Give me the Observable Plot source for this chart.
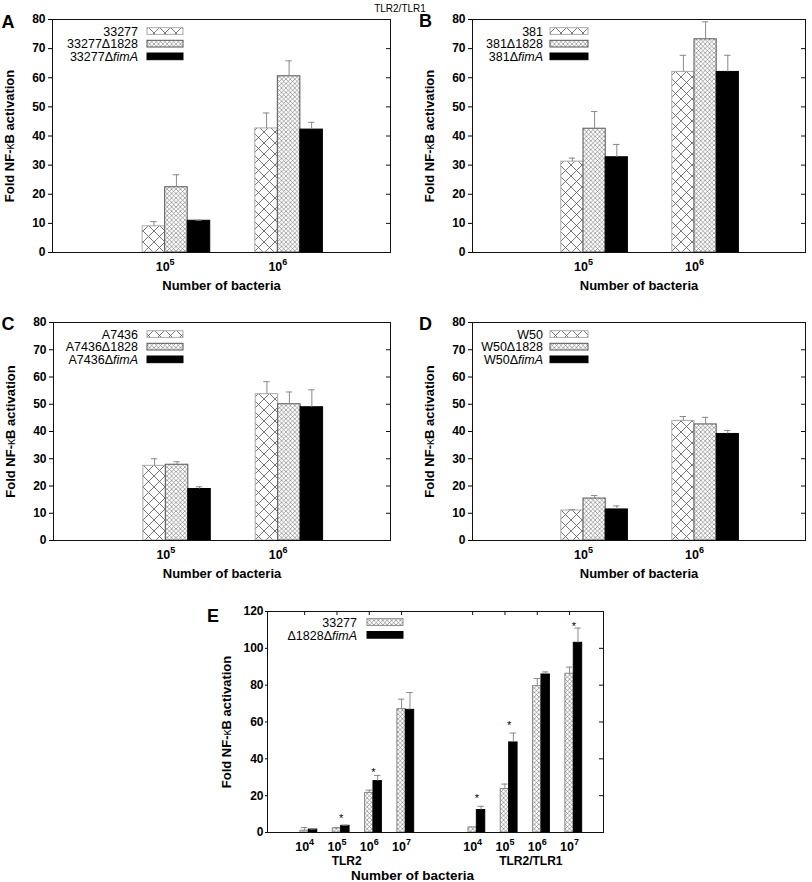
<!DOCTYPE html>
<html><head><meta charset="utf-8">
<script src="https://cdn.jsdelivr.net/npm/d3@7"></script>
<script src="https://cdn.jsdelivr.net/npm/@observablehq/plot@0.6"></script>
<style>
html,body{margin:0;padding:0;background:#fff;}
#root{position:relative;width:812px;height:882px;overflow:hidden;}
#root svg{position:absolute;}
</style></head><body><div id="root"></div>
<script>
// ---------------- DATA ----------------
const doses = ["10^5", "10^6"];

const strainsA = ["33277", "33277Δ1828", "33277ΔfimA"];
const meansA = [[9.0, 42.6], [22.4, 60.5], [10.9, 42.2]];
const sdA    = [[1.6, 5.3], [4.3, 5.3], [0.2, 2.5]];

const strainsB = ["381", "381Δ1828", "381ΔfimA"];
const meansB = [[31.2, 62.0], [42.5, 73.2], [32.7, 62.0]];
const sdB    = [[1.2, 5.7], [5.9, 6.0], [4.4, 5.7]];

const strainsC = ["A7436", "A7436Δ1828", "A7436ΔfimA"];
const meansC = [[27.4, 53.7], [27.8, 50.0], [18.9, 48.9]];
const sdC    = [[2.6, 4.6], [1.1, 4.5], [0.8, 6.4]];

const strainsD = ["W50", "W50Δ1828", "W50ΔfimA"];
const meansD = [[11.0, 43.9], [15.4, 42.6], [11.4, 39.1]];
const sdD    = [[0.3, 1.6], [1.1, 2.6], [1.3, 1.3]];

const eDoses = ["10^4", "10^5", "10^6", "10^7"];
const eReceptors = ["TLR2", "TLR2/TLR1"];
const eStrains = ["33277", "Δ1828ΔfimA"];
const eTLR2_wt     = [1.0, 2.2, 21.5, 67.0];
const eTLR2_wt_sd  = [1.7, 0.5, 1.5, 5.4];
const eTLR2_ko     = [1.6, 3.6, 27.9, 66.6];
const eTLR2_ko_sd  = [0.3, 0.4, 3.1, 9.4];
const eTLR21_wt    = [2.8, 23.6, 79.5, 86.2];
const eTLR21_wt_sd = [0.0, 2.7, 4.1, 3.6];
const eTLR21_ko    = [12.2, 48.9, 85.8, 103.0];
const eTLR21_ko_sd = [2.0, 5.1, 1.4, 8.0];
const eStarTLR2  = [null, 9.4, 34.4, null];
const eStarTLR21 = [19.9, 59.6, null, 113.5];

const yTitle = "Fold NF-κB activation";
const xTitle = "Number of bacteria";
const figTitle = "TLR2/TLR1";

// ---------------- LAYOUT ----------------
const FONT = '"Liberation Sans", Arial, Helvetica, sans-serif';
const root = document.getElementById("root");
const NS = "http://www.w3.org/2000/svg";

const stylesABCD = [
  {fill: "url(#hatchWide)", stroke: "#aaa"},
  {fill: "url(#hatchFine)", stroke: "#555"},
  {fill: "#000", stroke: "#000"}
];
const stylesE = [
  {fill: "url(#hatchFine)", stroke: "#888"},
  {fill: "#000", stroke: "#000"}
];

function postProcess(svg) {
  svg.querySelectorAll("text").forEach(t => {
    const s = t.textContent;
    const m = s.match(/^10\^(\d)$/);
    if (m) {
      t.textContent = "10";
      const ts = document.createElementNS(NS, "tspan");
      ts.setAttribute("dy", "-6");
      ts.setAttribute("font-size", "9");
      ts.textContent = m[1];
      t.appendChild(ts);
    } else if (s.includes("κ")) {
      const [a, b] = s.split("κ");
      t.textContent = "";
      const t1 = document.createElementNS(NS, "tspan"); t1.textContent = a;
      const t2 = document.createElementNS(NS, "tspan"); t2.textContent = "κ";
      t2.setAttribute("font-weight", "normal"); t2.setAttribute("font-size", "12");
      const t3 = document.createElementNS(NS, "tspan"); t3.textContent = b;
      t.append(t1, t2, t3);
    }
  });
}

function makePanel(cfg) {
  const {left, top, width, height, mL, mR, mT, mB, xDomain, tickPos, tickLabels,
         yMax, yStep, bars, styles, stars = [], groupText = [], topTicks = false,
         xTickPad, yTickSize, yTickPad, xTitleDx = 0, xTitleDy, xTitleSize = 13, yTitleDx} = cfg;
  const innerW = width - mL - mR, innerH = height - mT - mB;
  const yTicks = d3.range(0, yMax + 1e-9, yStep);
  const labelMap = new Map(tickPos.map((p, i) => [p, tickLabels[i]]));
  const capHalf = 3.2 / (innerW / (xDomain[1] - xDomain[0]));
  const marks = [];
  styles.forEach((st, j) => {
    marks.push(Plot.rect(bars.filter(b => b.s === j), {
      x1: "x1", x2: "x2", y1: 0, y2: "v", fill: st.fill, stroke: st.stroke, strokeWidth: 1
    }));
  });
  const errs = bars.filter(b => b.sd > 0);
  marks.push(
    Plot.ruleX(errs, {x: "xc", y1: "v", y2: d => d.v + d.sd, stroke: "#8a8a8a", strokeWidth: 1}),
    Plot.ruleY(errs, {y: d => d.v + d.sd, x1: d => d.xc - capHalf, x2: d => d.xc + capHalf, stroke: "#8a8a8a", strokeWidth: 1}),
    Plot.text(stars, {x: "x", y: "y", text: () => "*", fontSize: 11, fontWeight: "normal", fill: "#000", lineAnchor: "middle", dy: 3}),
    Plot.frame({stroke: "#111"}),
    Plot.axisY({ticks: yTicks, tickSize: yTickSize, tickPadding: yTickPad, tickFormat: d => String(d), label: null, fontSize: 12}),
    Plot.tickY(yTicks, {y: d => d, insetLeft: innerW - 4, stroke: "#111"}),
    Plot.axisX({ticks: tickPos, tickFormat: d => labelMap.get(d), tickSize: 0, tickPadding: xTickPad, label: null, fontSize: 12.5}),
    Plot.text([xTitle], {frameAnchor: "bottom", dx: xTitleDx, dy: xTitleDy, lineAnchor: "bottom", fontSize: xTitleSize}),
    Plot.text([yTitle], {frameAnchor: "left", rotate: -90, dx: yTitleDx, lineAnchor: "bottom", textAnchor: "middle", fontSize: 13})
  );
  if (topTicks) marks.push(Plot.tickX(tickPos, {x: d => d, insetBottom: innerH - 4, stroke: "#111"}));
  if (groupText.length) marks.push(Plot.text(groupText, {x: "x", text: "label", frameAnchor: "bottom", dy: 32.5, lineAnchor: "bottom", fontSize: 12}));
  const svg = Plot.plot({
    width, height, marginLeft: mL, marginRight: mR, marginTop: mT, marginBottom: mB,
    style: {fontFamily: FONT, fontSize: "12px", fontWeight: "bold", color: "#000", background: "transparent", overflow: "visible"},
    x: {domain: xDomain, axis: null},
    y: {domain: [0, yMax], axis: null},
    marks
  });
  svg.style.left = left + "px";
  svg.style.top = top + "px";
  postProcess(svg);
  root.appendChild(svg);
}

function barsABCD(means, sds) {
  const out = [];
  means.forEach((row, j) => row.forEach((v, g) => {
    const x1 = (g + 1) + (j - 1) * 0.2;
    out.push({s: j, g, x1, x2: x1 + 0.2, xc: x1 + 0.1, v, sd: sds[j][g]});
  }));
  return out;
}

const ePos = [[1, 2, 3, 4], [6.2, 7.2, 8.2, 9.2]];
function barsE() {
  const out = [];
  const series = [[eTLR2_wt, eTLR2_wt_sd, eTLR21_wt, eTLR21_wt_sd], [eTLR2_ko, eTLR2_ko_sd, eTLR21_ko, eTLR21_ko_sd]];
  series.forEach((arr, j) => {
    [0, 1].forEach(r => {
      const vals = arr[r * 2], sds = arr[r * 2 + 1];
      vals.forEach((v, g) => {
        const x1 = ePos[r][g] + (j === 0 ? -0.13 : 0.13);
        out.push({s: j, g, x1, x2: x1 + 0.26, xc: x1 + 0.13, v, sd: sds[g]});
      });
    });
  });
  return out;
}
function starsE() {
  const out = [];
  [eStarTLR2, eStarTLR21].forEach((arr, r) => arr.forEach((y, g) => {
    if (y != null) out.push({x: ePos[r][g] + 0.13, y});
  }));
  return out;
}

const common = {width: 406, height: 300, xDomain: [0, 3], tickPos: [1, 2], tickLabels: doses,
  yMax: 80, yStep: 10, styles: stylesABCD, xTickPad: 9.5, yTickSize: 4, yTickPad: 3, xTitleDy: 37, yTitleDx: -39};

makePanel({...common, left: 0, top: 0, mL: 52, mR: 16, mT: 19, mB: 48, bars: barsABCD(meansA, sdA)});
makePanel({...common, left: 406, top: 0, mL: 66, mR: 7, mT: 19, mB: 48, bars: barsABCD(meansB, sdB)});
makePanel({...common, left: 0, top: 300, mL: 53, mR: 16, mT: 22, mB: 60, bars: barsABCD(meansC, sdC)});
makePanel({...common, left: 406, top: 300, mL: 66, mR: 7, mT: 22, mB: 60, bars: barsABCD(meansD, sdD)});

makePanel({left: 200, top: 600, width: 420, height: 282, mL: 67, mR: 17, mT: 11, mB: 50,
  xDomain: [-0.15, 10.25], tickPos: ePos.flat(), tickLabels: [...eDoses, ...eDoses],
  yMax: 120, yStep: 20, bars: barsE(), styles: stylesE, stars: starsE(), topTicks: true,
  groupText: [{x: 2.3, label: eReceptors[0]}, {x: 8.0, label: eReceptors[1]}],
  xTickPad: 9.3, yTickSize: 2, yTickPad: 2, xTitleDx: -23, xTitleDy: 47, xTitleSize: 13.5, yTitleDx: -37});

// ---------------- OVERLAY (patterns, letters, title, legends) ----------------
const ov = d3.select(root).append("svg").attr("width", 812).attr("height", 882)
  .style("left", "0px").style("top", "0px").style("pointer-events", "none")
  .attr("font-family", FONT);
const defs = ov.append("defs");
const pw = defs.append("pattern").attr("id", "hatchWide").attr("patternUnits", "userSpaceOnUse").attr("width", 11).attr("height", 11);
pw.append("rect").attr("width", 11).attr("height", 11).attr("fill", "#fff");
pw.append("path").attr("d", "M0,0L11,11M11,0L0,11").attr("stroke", "#555").attr("stroke-width", 0.8).attr("fill", "none");
const pf = defs.append("pattern").attr("id", "hatchFine").attr("patternUnits", "userSpaceOnUse").attr("width", 4.4).attr("height", 4.4);
pf.append("rect").attr("width", 4.4).attr("height", 4.4).attr("fill", "#fff");
pf.append("path").attr("d", "M0,0L4.4,4.4M4.4,0L0,4.4").attr("stroke", "#555").attr("stroke-width", 0.5).attr("fill", "none");

ov.append("text").attr("x", 400).attr("y", 11.7).attr("text-anchor", "middle").attr("font-size", 10).text(figTitle);

[["A", 1.5, 28], ["B", 419, 26.7], ["C", 1.5, 330], ["D", 419, 330], ["E", 207, 621.7]].forEach(([l, x, y]) => {
  ov.append("text").attr("x", x).attr("y", y).attr("font-size", 18).attr("font-weight", "bold").text(l);
});

function legend(labels, styles, textRight, swatchX, swatchW, baselines) {
  labels.forEach((lab, i) => {
    const t = ov.append("text").attr("x", textRight).attr("y", baselines[i]).attr("text-anchor", "end").attr("font-size", 12.5);
    if (lab.endsWith("fimA")) {
      t.append("tspan").text(lab.slice(0, -4));
      t.append("tspan").attr("font-style", "italic").text("fimA");
    } else t.text(lab);
    ov.append("rect").attr("x", swatchX).attr("y", baselines[i] - 8).attr("width", swatchW).attr("height", 6.7)
      .attr("fill", styles[i].fill).attr("stroke", styles[i].stroke).attr("stroke-width", 1);
  });
}
const rowsAB = [19 + 16.7, 19 + 29.3, 19 + 42];
const rowsCD = [322 + 16.7, 322 + 29.3, 322 + 42];
legend(strainsA, stylesABCD, 138, 147, 36, rowsAB);
legend(strainsB, stylesABCD, 543, 550, 38, rowsAB);
legend(strainsC, stylesABCD, 138, 147, 36, rowsCD);
legend(strainsD, stylesABCD, 543, 550, 38, rowsCD);
legend(eStrains, stylesE, 357, 367, 36, [611 + 15.7, 611 + 28.5]);
</script></body></html>
